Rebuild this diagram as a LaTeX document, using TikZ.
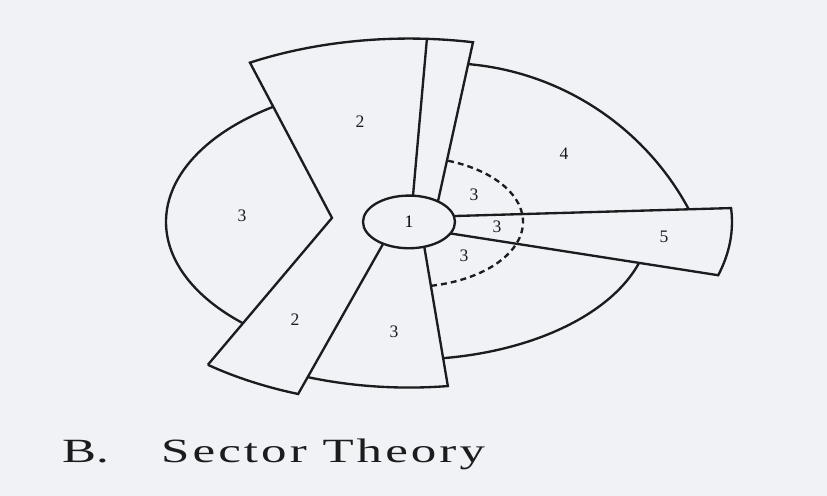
\documentclass[tikz,border=0pt]{standalone}
\usepackage{fontspec}
\setmainfont{Liberation Serif}
\newfontfamily\capfont[LetterSpace=6]{Liberation Serif}
\usepackage{graphicx}
\usepackage{xcolor}
\usetikzlibrary{shapes.geometric}

\definecolor{paper}{RGB}{241,242,245}
\definecolor{ink}{RGB}{28,28,30}

\begin{document}
\begin{tikzpicture}[x=0.03cm, y=0.01714cm, line join=miter,
  zone/.style={draw=ink, line width=2pt},
  ring/.style={draw=ink, line width=2pt, dash pattern=on 5pt off 3.5pt},
  num/.style={font=\fontsize{15}{15}\selectfont, text=ink, inner sep=0pt},
  cbd/.style={ellipse, draw=ink, line width=2pt, minimum width=2.76cm, minimum height=1.58cm, inner sep=0pt}]
  % paper, same size as the scan
  \fill[paper] (-409,-479.5) rectangle (418,388.5);
  \useasboundingbox (-409,-479.5) rectangle (418,388.5);

  \node[cbd, font=\fontsize{15}{15}\selectfont] (core) at (0,0) {1};
  \coordinate (notch) at (-77,7);

  % sector 2 (both arms) and the thin wedge
  \draw[zone] (231.2:321) -- (notch) -- (119.7:321) arc (119.7:78.5:321) -- (51:46);
  \draw[zone] (231.2:321) arc (231.2:249.8:321) -- (235.9:46);
  \draw[zone] (86.8:321) -- (85:46);
  % sector 3, left
  \draw[zone] (124.06:243) arc (124.06:226.9:243);
  % sector 3, bottom
  \draw[zone] (249.5:290) arc (249.5:277.7:290) -- (289.4:46);
  % sector 5
  \draw[zone] (12.9:46) -- (4.3:323) arc (4.3:-16.8:323) -- (-26:46);
  % sector 4
  \draw[zone] (59.2,276.3) arc[start angle=85, end angle=28.25, x radius=278, y radius=486.5];
  \draw[zone] (-17.33:241) arc (-17.33:-81.84:241);
  % inner ring of 3
  \draw[ring] (69.9:114) arc (69.9:-78.7:114);

  \node[num] (n2a) at (-49,175) {2};
  \node[num] (n3a) at (-167,10.5) {3};
  \node[num] (n2b) at (-114,-171.5) {2};
  \node[num] (n3b) at (-15,-192.5) {3};
  \node[num] (n3c) at (65,47) {3};
  \node[num] (n3d) at (88,-8.75) {3};
  \node[num] (n3e) at (55,-59.5) {3};
  \node[num] (n4) at (155,119) {4};
  \node[num] (n5) at (255,-26) {5};

  \node[anchor=base west, inner sep=0pt, text=ink, font=\fontsize{29}{29}\selectfont] (tag) at (-347,-421.75) {\scalebox{1.5}[1]{B.}};
  \node[anchor=base west, inner sep=0pt, text=ink, font=\fontsize{29}{29}\selectfont] (title) at (-248,-421.75) {\scalebox{1.5}[1]{\capfont Sector Theory}};
\end{tikzpicture}
\end{document}
